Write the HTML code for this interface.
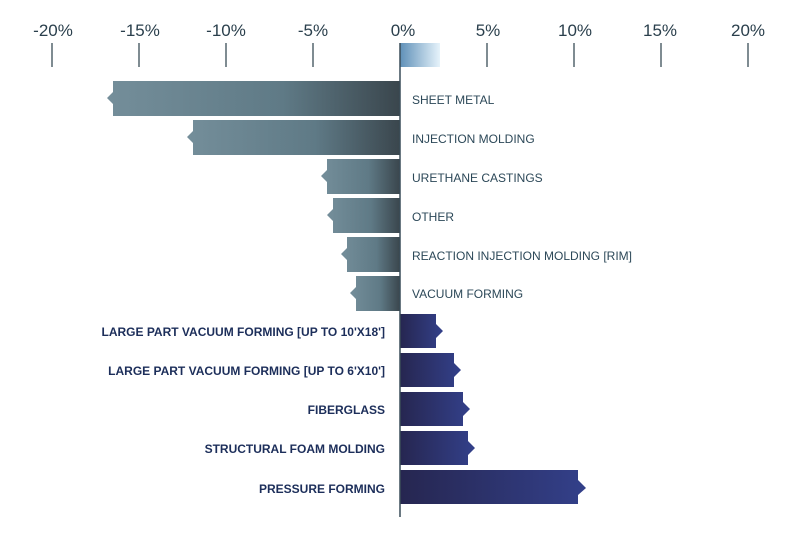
<!DOCTYPE html><html><head><style>body{margin:0;background:#fff}svg text{font-family:"Liberation Sans",sans-serif}</style></head><body>
<svg width="800" height="531" viewBox="0 0 800 531">
<defs>
<linearGradient id="n" x1="0" x2="1"><stop offset="0" stop-color="#748e9a"/><stop offset="0.6" stop-color="#5f7a86"/><stop offset="1" stop-color="#3a464d"/></linearGradient>
<linearGradient id="p" x1="0" x2="1"><stop offset="0" stop-color="#262650"/><stop offset="1" stop-color="#33408a"/></linearGradient>
<linearGradient id="l" x1="0" x2="1"><stop offset="0" stop-color="#5f90b8"/><stop offset="1" stop-color="#e6f3fb"/></linearGradient>
</defs>
<g font-size="17" fill="#2a3f4c" text-anchor="middle">
<text x="53" y="36">-20%</text><text x="140" y="36">-15%</text><text x="226" y="36">-10%</text><text x="313" y="36">-5%</text><text x="403" y="36">0%</text><text x="488" y="36">5%</text><text x="575" y="36">10%</text><text x="660" y="36">15%</text><text x="748" y="36">20%</text>
</g>
<g stroke="#3a4d58" stroke-width="1.3">
<line x1="52" y1="43" x2="52" y2="67"/><line x1="139" y1="43" x2="139" y2="67"/><line x1="226" y1="43" x2="226" y2="67"/><line x1="313" y1="43" x2="313" y2="67"/><line x1="487" y1="43" x2="487" y2="67"/><line x1="574" y1="43" x2="574" y2="67"/><line x1="661" y1="43" x2="661" y2="67"/><line x1="748" y1="43" x2="748" y2="67"/>
</g>
<rect x="400" y="43" width="40" height="24" fill="url(#l)"/>
<g fill="url(#n)">
<polygon points="113,81 400,81 400,116 113,116 113,104 107,98 113,92"/>
<polygon points="193,120 400,120 400,155 193,155 193,143 187,137 193,131"/>
<polygon points="327,159 400,159 400,194 327,194 327,182 321,176 327,170"/>
<polygon points="333,198 400,198 400,233 333,233 333,221 327,215 333,209"/>
<polygon points="347,237 400,237 400,272 347,272 347,260 341,254 347,248"/>
<polygon points="356,276 400,276 400,311 356,311 356,299 350,293 356,287"/>
</g>
<g fill="url(#p)">
<polygon points="400,314 436,314 436,324 443,331 436,338 436,348 400,348"/>
<polygon points="400,353 454,353 454,363 461,370 454,377 454,387 400,387"/>
<polygon points="400,392 463,392 463,402 470,409 463,416 463,426 400,426"/>
<polygon points="400,431 468,431 468,441 475,448 468,455 468,465 400,465"/>
<polygon points="400,470 578,470 578,480 586,488 578,495 578,504 400,504"/>
</g>
<line x1="400" y1="43" x2="400" y2="517" stroke="#3a4d58" stroke-width="1.5"/>
<g font-size="12" fill="#2c4858">
<text x="412" y="104">SHEET METAL</text><text x="412" y="143">INJECTION MOLDING</text><text x="412" y="182">URETHANE CASTINGS</text><text x="412" y="221">OTHER</text><text x="412" y="260">REACTION INJECTION MOLDING [RIM]</text><text x="412" y="298">VACUUM FORMING</text>
</g>
<g font-size="12" fill="#1c2e5a" font-weight="bold" text-anchor="end">
<text x="385" y="336">LARGE PART VACUUM FORMING [UP TO 10'X18']</text><text x="385" y="375">LARGE PART VACUUM FORMING [UP TO 6'X10']</text><text x="385" y="414">FIBERGLASS</text><text x="385" y="453">STRUCTURAL FOAM MOLDING</text><text x="385" y="493">PRESSURE FORMING</text>
</g>
</svg></body></html>
